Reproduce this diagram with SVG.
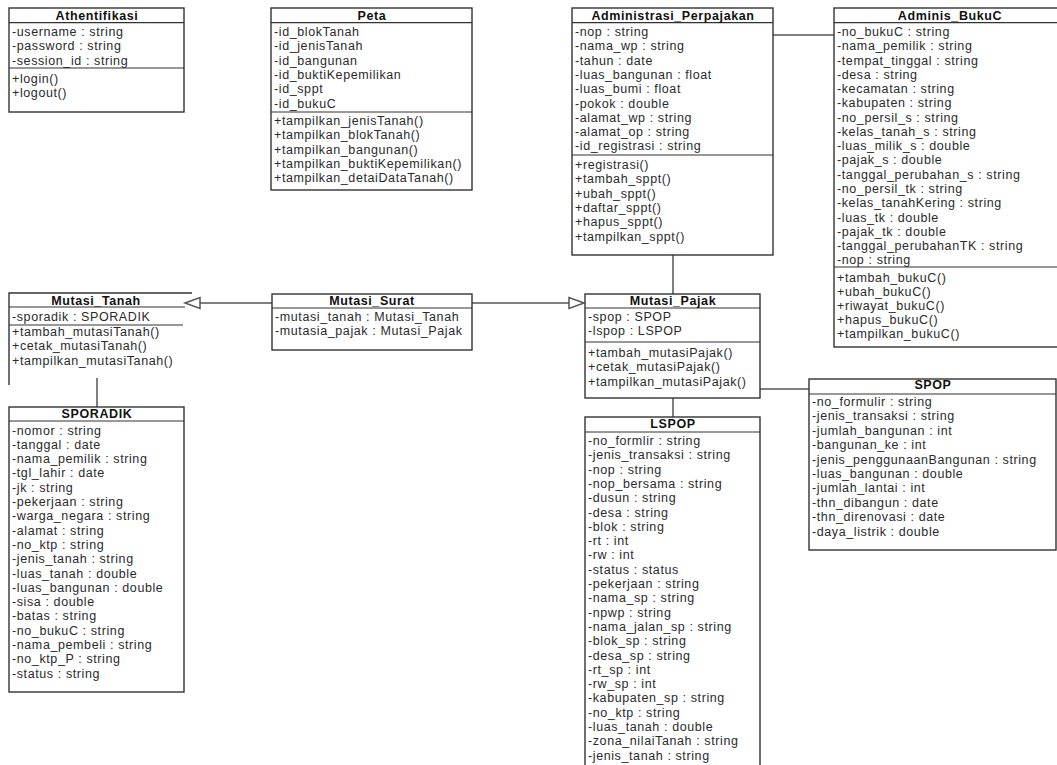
<svg xmlns="http://www.w3.org/2000/svg" width="1057" height="765" viewBox="0 0 1057 765">
<style>
.bg{fill:#fff}
.box{fill:#fff;stroke:#333;stroke-width:1.4}
.ln{fill:none;stroke:#333;stroke-width:1.2}
.cn{fill:none;stroke:#555;stroke-width:1.5}
.tri{fill:#fff;stroke:#555;stroke-width:1.5}
text{font-family:"Liberation Sans",Arial,sans-serif;font-size:12.5px;letter-spacing:0.6px;fill:#2a2a2a}
.h{font-weight:bold;text-anchor:middle;fill:#111}
</style>
<rect class="bg" x="0" y="0" width="1057" height="765"/>

<g id="connectors">
<line class="cn" x1="773" y1="35" x2="834" y2="35"/>
<line class="cn" x1="673" y1="255" x2="673" y2="294"/>
<line class="cn" x1="673" y1="398" x2="673" y2="417"/>
<line class="cn" x1="760" y1="389" x2="809" y2="389"/>
<line class="cn" x1="97" y1="378" x2="97" y2="407"/>
<line class="cn" x1="272" y1="303" x2="200" y2="303"/>
<polygon class="tri" points="185,303 200,297.5 200,308.5"/>
<line class="cn" x1="472" y1="303" x2="569" y2="303"/>
<polygon class="tri" points="584,303 569,297.5 569,308.5"/>
</g>

<g id="Athentifikasi">
<rect class="box" x="9" y="8" width="175" height="104"/>
<line class="ln" x1="9" y1="22.7" x2="184" y2="22.7"/>
<line class="ln" x1="9" y1="68" x2="184" y2="68"/>
<text class="h" x="97" y="19.5">Athentifikasi</text>
<text x="12" y="36">-username : string</text>
<text x="12" y="50.3">-password : string</text>
<text x="12" y="64.6">-session_id : string</text>
<text x="12" y="83.3">+login()</text>
<text x="12" y="97">+logout()</text>
</g>

<g id="Peta">
<rect class="box" x="271" y="8" width="201" height="182"/>
<line class="ln" x1="271" y1="22.7" x2="472" y2="22.7"/>
<line class="ln" x1="271" y1="112" x2="472" y2="112"/>
<text class="h" x="372" y="19.5">Peta</text>
<text x="274" y="36">-id_blokTanah</text>
<text x="274" y="50.3">-id_jenisTanah</text>
<text x="274" y="64.6">-id_bangunan</text>
<text x="274" y="78.9">-id_buktiKepemilikan</text>
<text x="274" y="93.2">-id_sppt</text>
<text x="274" y="107.5">-id_bukuC</text>
<text x="274" y="125">+tampilkan_jenisTanah()</text>
<text x="274" y="139.3">+tampilkan_blokTanah()</text>
<text x="274" y="153.6">+tampilkan_bangunan()</text>
<text x="274" y="167.9">+tampilkan_buktiKepemilikan()</text>
<text x="274" y="182.2">+tampilkan_detaiDataTanah()</text>
</g>

<g id="Administrasi_Perpajakan">
<rect class="box" x="572" y="8" width="201" height="247"/>
<line class="ln" x1="572" y1="22.7" x2="773" y2="22.7"/>
<line class="ln" x1="572" y1="155" x2="773" y2="155"/>
<text class="h" x="673" y="19.5">Administrasi_Perpajakan</text>
<text x="575" y="36">-nop : string</text>
<text x="575" y="50.3">-nama_wp : string</text>
<text x="575" y="64.6">-tahun : date</text>
<text x="575" y="78.9">-luas_bangunan : float</text>
<text x="575" y="93.2">-luas_bumi : float</text>
<text x="575" y="107.5">-pokok : double</text>
<text x="575" y="121.8">-alamat_wp : string</text>
<text x="575" y="136.1">-alamat_op : string</text>
<text x="575" y="150.4">-id_registrasi : string</text>
<text x="575" y="169">+registrasi()</text>
<text x="575" y="183.3">+tambah_sppt()</text>
<text x="575" y="197.6">+ubah_sppt()</text>
<text x="575" y="211.9">+daftar_sppt()</text>
<text x="575" y="226.2">+hapus_sppt()</text>
<text x="575" y="240.5">+tampilkan_sppt()</text>
</g>

<g id="Adminis_BukuC">
<rect class="box" x="834" y="8" width="232" height="339"/>
<line class="ln" x1="834" y1="22.7" x2="1066" y2="22.7"/>
<line class="ln" x1="834" y1="267" x2="1066" y2="267"/>
<text class="h" x="950" y="19.5">Adminis_BukuC</text>
<text x="837" y="36">-no_bukuC : string</text>
<text x="837" y="50.3">-nama_pemilik : string</text>
<text x="837" y="64.5">-tempat_tinggal : string</text>
<text x="837" y="78.8">-desa : string</text>
<text x="837" y="93.1">-kecamatan : string</text>
<text x="837" y="107.4">-kabupaten : string</text>
<text x="837" y="121.6">-no_persil_s : string</text>
<text x="837" y="135.9">-kelas_tanah_s : string</text>
<text x="837" y="150.2">-luas_milik_s : double</text>
<text x="837" y="164.4">-pajak_s : double</text>
<text x="837" y="178.7">-tanggal_perubahan_s : string</text>
<text x="837" y="193">-no_persil_tk : string</text>
<text x="837" y="207.2">-kelas_tanahKering : string</text>
<text x="837" y="221.5">-luas_tk : double</text>
<text x="837" y="235.8">-pajak_tk : double</text>
<text x="837" y="250">-tanggal_perubahanTK : string</text>
<text x="837" y="264.3">-nop : string</text>
<text x="837" y="282">+tambah_bukuC()</text>
<text x="837" y="296">+ubah_bukuC()</text>
<text x="837" y="310">+riwayat_bukuC()</text>
<text x="837" y="324">+hapus_bukuC()</text>
<text x="837" y="338">+tampilkan_bukuC()</text>
</g>

<g id="Mutasi_Tanah">
<path class="ln" d="M9,385 V293 H192" style="stroke-width:1.4"/>
<line class="ln" x1="9" y1="307" x2="185" y2="307"/>
<line class="ln" x1="9" y1="325" x2="183" y2="325"/>
<text class="h" x="96" y="305">Mutasi_Tanah</text>
<text x="12" y="321">-sporadik : SPORADIK</text>
<text x="12" y="336">+tambah_mutasiTanah()</text>
<text x="12" y="350.3">+cetak_mutasiTanah()</text>
<text x="12" y="364.6">+tampilkan_mutasiTanah()</text>
</g>

<g id="Mutasi_Surat">
<rect class="box" x="272" y="294" width="200" height="56"/>
<line class="ln" x1="272" y1="308" x2="472" y2="308"/>
<text class="h" x="372" y="305">Mutasi_Surat</text>
<text x="275" y="320.7">-mutasi_tanah : Mutasi_Tanah</text>
<text x="275" y="335">-mutasia_pajak : Mutasi_Pajak</text>
</g>

<g id="Mutasi_Pajak">
<rect class="box" x="585" y="294" width="175" height="104"/>
<line class="ln" x1="585" y1="308" x2="760" y2="308"/>
<line class="ln" x1="585" y1="342" x2="760" y2="342"/>
<text class="h" x="673" y="305">Mutasi_Pajak</text>
<text x="588" y="321">-spop : SPOP</text>
<text x="588" y="335.3">-lspop : LSPOP</text>
<text x="588" y="357">+tambah_mutasiPajak()</text>
<text x="588" y="371.3">+cetak_mutasiPajak()</text>
<text x="588" y="385.6">+tampilkan_mutasiPajak()</text>
</g>

<g id="SPOP">
<rect class="box" x="809" y="379" width="247" height="171"/>
<line class="ln" x1="809" y1="394" x2="1056" y2="394"/>
<text class="h" x="933" y="389">SPOP</text>
<text x="812" y="406">-no_formulir : string</text>
<text x="812" y="420.4">-jenis_transaksi : string</text>
<text x="812" y="434.8">-jumlah_bangunan : int</text>
<text x="812" y="449.2">-bangunan_ke : int</text>
<text x="812" y="463.6">-jenis_penggunaanBangunan : string</text>
<text x="812" y="478">-luas_bangunan : double</text>
<text x="812" y="492.4">-jumlah_lantai : int</text>
<text x="812" y="506.8">-thn_dibangun : date</text>
<text x="812" y="521.2">-thn_direnovasi : date</text>
<text x="812" y="535.6">-daya_listrik : double</text>
</g>

<g id="LSPOP">
<rect class="box" x="585" y="417" width="175" height="360"/>
<line class="ln" x1="585" y1="432" x2="760" y2="432"/>
<text class="h" x="673" y="427.5">LSPOP</text>
<text x="588" y="445">-no_formlir : string</text>
<text x="588" y="459.3">-jenis_transaksi : string</text>
<text x="588" y="473.6">-nop : string</text>
<text x="588" y="487.9">-nop_bersama : string</text>
<text x="588" y="502.2">-dusun : string</text>
<text x="588" y="516.5">-desa : string</text>
<text x="588" y="530.8">-blok : string</text>
<text x="588" y="545.1">-rt : int</text>
<text x="588" y="559.4">-rw : int</text>
<text x="588" y="573.7">-status : status</text>
<text x="588" y="588">-pekerjaan : string</text>
<text x="588" y="602.3">-nama_sp : string</text>
<text x="588" y="616.6">-npwp : string</text>
<text x="588" y="630.9">-nama_jalan_sp : string</text>
<text x="588" y="645.2">-blok_sp : string</text>
<text x="588" y="659.5">-desa_sp : string</text>
<text x="588" y="673.8">-rt_sp : int</text>
<text x="588" y="688.1">-rw_sp : int</text>
<text x="588" y="702.4">-kabupaten_sp : string</text>
<text x="588" y="716.7">-no_ktp : string</text>
<text x="588" y="731">-luas_tanah : double</text>
<text x="588" y="745.3">-zona_nilaiTanah : string</text>
<text x="588" y="759.6">-jenis_tanah : string</text>
</g>

<g id="SPORADIK">
<rect class="box" x="9" y="407" width="175" height="285"/>
<line class="ln" x1="9" y1="421" x2="184" y2="421"/>
<text class="h" x="97" y="418">SPORADIK</text>
<text x="12" y="434.5">-nomor : string</text>
<text x="12" y="448.8">-tanggal : date</text>
<text x="12" y="463.1">-nama_pemilik : string</text>
<text x="12" y="477.4">-tgl_lahir : date</text>
<text x="12" y="491.7">-jk : string</text>
<text x="12" y="506">-pekerjaan : string</text>
<text x="12" y="520.3">-warga_negara : string</text>
<text x="12" y="534.6">-alamat : string</text>
<text x="12" y="548.9">-no_ktp : string</text>
<text x="12" y="563.2">-jenis_tanah : string</text>
<text x="12" y="577.5">-luas_tanah : double</text>
<text x="12" y="591.8">-luas_bangunan : double</text>
<text x="12" y="606.1">-sisa : double</text>
<text x="12" y="620.4">-batas : string</text>
<text x="12" y="634.7">-no_bukuC : string</text>
<text x="12" y="649">-nama_pembeli : string</text>
<text x="12" y="663.3">-no_ktp_P : string</text>
<text x="12" y="677.6">-status : string</text>
</g>
</svg>
